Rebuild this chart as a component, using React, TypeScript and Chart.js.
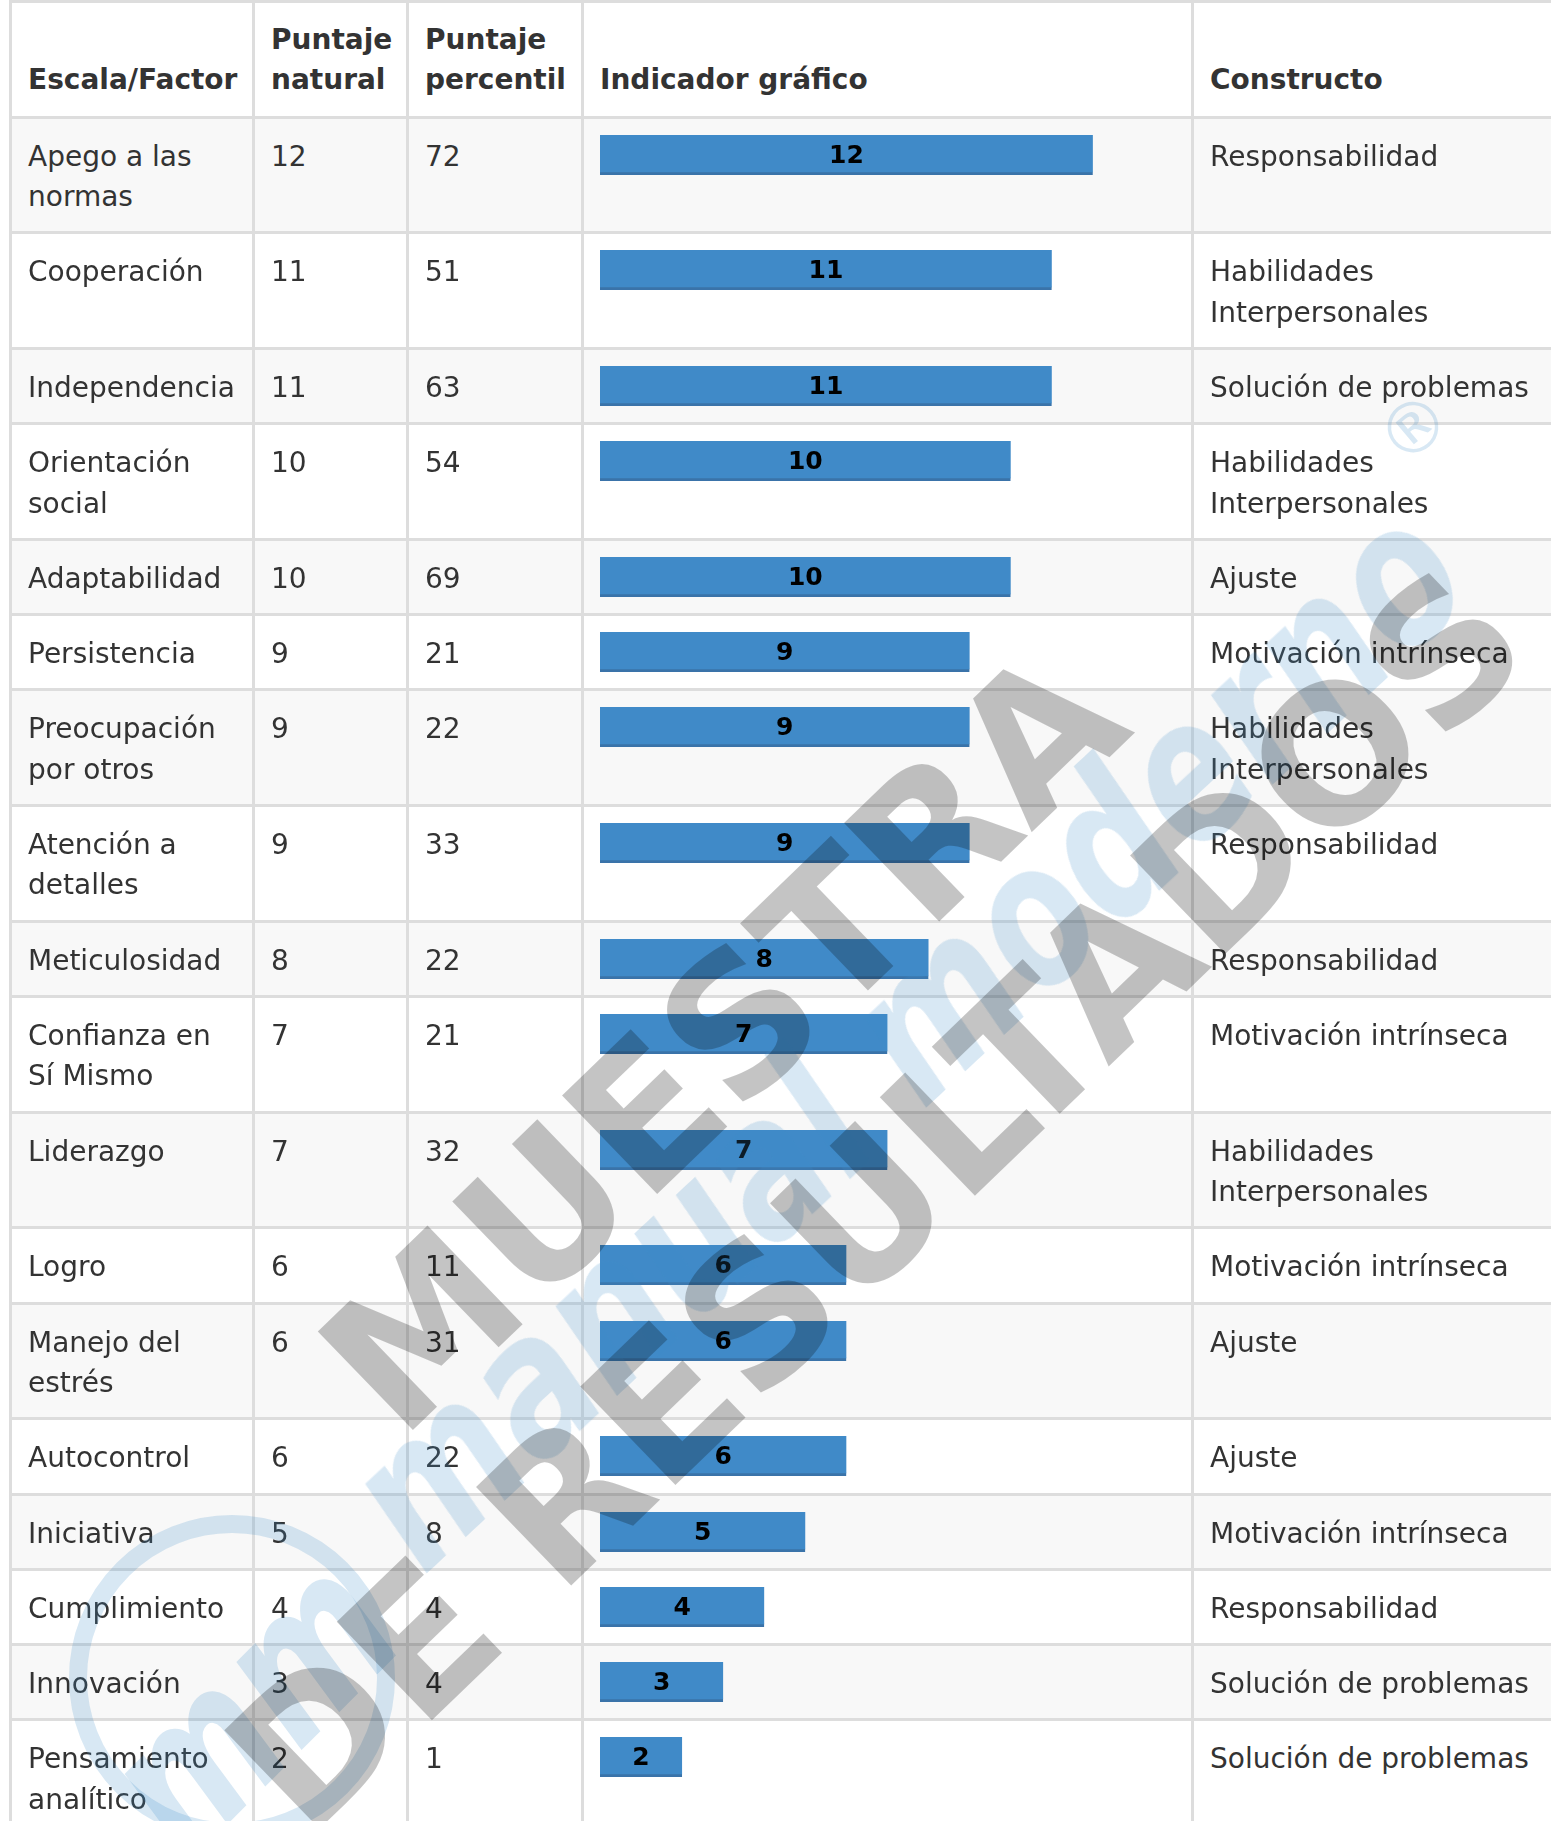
import React, { useEffect, useRef } from "react";
import { Chart, registerables } from "chart.js";

Chart.register(...registerables);

const headers = ["Escala/Factor", "Puntaje natural", "Puntaje percentil", "Indicador gráfico", "Constructo"];

const factors = [
  "Apego a las normas",
  "Cooperación",
  "Independencia",
  "Orientación social",
  "Adaptabilidad",
  "Persistencia",
  "Preocupación por otros",
  "Atención a detalles",
  "Meticulosidad",
  "Confianza en Sí Mismo",
  "Liderazgo",
  "Logro",
  "Manejo del estrés",
  "Autocontrol",
  "Iniciativa",
  "Cumplimiento",
  "Innovación",
  "Pensamiento analítico",
];

const naturalScores = [12, 11, 11, 10, 10, 9, 9, 9, 8, 7, 7, 6, 6, 6, 5, 4, 3, 2];

const percentileScores = [72, 51, 63, 54, 69, 21, 22, 33, 22, 21, 32, 11, 31, 22, 8, 4, 4, 1];

const constructs = [
  "Responsabilidad",
  "Habilidades Interpersonales",
  "Solución de problemas",
  "Habilidades Interpersonales",
  "Ajuste",
  "Motivación intrínseca",
  "Habilidades Interpersonales",
  "Responsabilidad",
  "Responsabilidad",
  "Motivación intrínseca",
  "Habilidades Interpersonales",
  "Motivación intrínseca",
  "Ajuste",
  "Ajuste",
  "Motivación intrínseca",
  "Responsabilidad",
  "Solución de problemas",
  "Solución de problemas",
];

const axisMin = 0;
const axisMax = 14;

const BAR_COLOR = "#408ac8";
const BAR_EDGE = "#3a73a9";
const FONT = "'DejaVu Sans', Verdana, sans-serif";

const valueLabelPlugin = {
  id: "valueLabel",
  afterDatasetsDraw(chart: any) {
    const ctx = chart.ctx;
    const ds = chart.data.datasets[0];
    const meta = chart.getDatasetMeta(0);
    meta.data.forEach((bar: any, i: number) => {
      const p = bar.getProps(["x", "y", "base"], true);
      ctx.save();
      ctx.font = "bold 25px 'DejaVu Sans'";
      ctx.fillStyle = "#000";
      ctx.textAlign = "center";
      ctx.textBaseline = "alphabetic";
      ctx.fillText(String(ds.data[i]), (p.x + p.base) / 2, p.y + 8);
      ctx.restore();
    });
  },
};

function BarCell({ label, value }: { label: string; value: number }) {
  const ref = useRef<HTMLCanvasElement | null>(null);
  useEffect(() => {
    const chart = new Chart(ref.current as HTMLCanvasElement, {
      type: "bar",
      data: {
        labels: [label],
        datasets: [
          {
            data: [value],
            backgroundColor: BAR_COLOR,
            borderColor: BAR_EDGE,
            borderWidth: { top: 0, left: 0, right: 0, bottom: 3 },
            borderSkipped: false,
            barPercentage: 1,
            categoryPercentage: 1,
          } as any,
        ],
      },
      options: {
        indexAxis: "y",
        animation: false,
        responsive: false,
        maintainAspectRatio: false,
        devicePixelRatio: 1,
        layout: { padding: 0 },
        plugins: { legend: { display: false }, tooltip: { enabled: false } },
        scales: {
          x: { display: false, min: axisMin, max: axisMax },
          y: { display: false },
        },
      } as any,
      plugins: [valueLabelPlugin],
    });
    return () => chart.destroy();
  }, [label, value]);
  return <canvas ref={ref} width={575} height={40} style={{ display: "block", width: 575, height: 40 }} />;
}

const textCell = (bg: string): React.CSSProperties => ({
  background: bg,
  padding: "18px 16px 14px 16px",
  fontSize: 28,
  lineHeight: "40.32px",
  color: "#333",
});

export default function App() {
  const wmBlue = "rgba(60,140,200,0.2)";
  return (
    <div
      style={{
        position: "relative",
        width: 1551,
        height: 1821,
        overflow: "hidden",
        background: "#fff",
        fontFamily: FONT,
      }}
    >
      <style>{"html,body{margin:0;padding:0;overflow:hidden;background:#fff}"}</style>
      <div
        style={{
          position: "absolute",
          left: 9,
          top: 0,
          display: "grid",
          gridTemplateColumns: "240px 151px 172px 607px 388px",
          gap: 3,
          padding: 3,
          background: "#ddd",
        }}
      >
        {headers.map((h) => (
          <div
            key={h}
            style={{
              ...textCell("#fff"),
              padding: "17px 16px 15px 16px",
              fontWeight: "bold",
              display: "flex",
              alignItems: "flex-end",
            }}
          >
            <span>{h}</span>
          </div>
        ))}
        {factors.map((f, i) => {
          const bg = i % 2 === 0 ? "#f8f8f8" : "#fff";
          return (
            <React.Fragment key={f}>
              <div style={textCell(bg)}>{f}</div>
              <div style={textCell(bg)}>{naturalScores[i]}</div>
              <div style={textCell(bg)}>{percentileScores[i]}</div>
              <div style={{ background: bg, padding: "16px 16px" }}>
                <BarCell label={f} value={naturalScores[i]} />
              </div>
              <div style={textCell(bg)}>{constructs[i]}</div>
            </React.Fragment>
          );
        })}
      </div>

      {/* watermark: logo ring */}
      <div
        style={{
          position: "absolute",
          left: 69,
          top: 1515,
          width: 326,
          height: 326,
          borderRadius: "50%",
          border: `18px solid ${wmBlue}`,
          boxSizing: "border-box",
          pointerEvents: "none",
        }}
      />
      <div
        style={{
          position: "absolute",
          left: 250,
          top: 1705,
          transform: "translate(-50%,-50%) rotate(-45deg) scale(0.92,1.2)",
          font: `italic bold 165px ${FONT}`,
          color: wmBlue,
          whiteSpace: "pre",
          pointerEvents: "none",
        }}
      >
        mm
      </div>
      <div
        style={{
          position: "absolute",
          left: 905,
          top: 1035,
          transform: "translate(-50%,-50%) rotate(-43deg) scale(0.93,1.2)",
          font: `italic bold 163px ${FONT}`,
          color: wmBlue,
          whiteSpace: "pre",
          pointerEvents: "none",
        }}
      >
        manual moderno
      </div>
      <div
        style={{
          position: "absolute",
          left: 1414,
          top: 428,
          transform: "translate(-50%,-50%) rotate(-40deg)",
          font: `70px ${FONT}`,
          color: wmBlue,
          pointerEvents: "none",
        }}
      >
        ®
      </div>
      <div
        style={{
          position: "absolute",
          left: 800,
          top: 1120,
          transform: "translate(-50%,-50%) rotate(-44deg)",
          font: `bold 188px ${FONT}`,
          lineHeight: "222px",
          color: "rgba(0,0,0,0.23)",
          whiteSpace: "pre",
          textAlign: "center",
          pointerEvents: "none",
        }}
      >
        {"MUESTRA\nDE RESULTADOS"}
      </div>
    </div>
  );
}
